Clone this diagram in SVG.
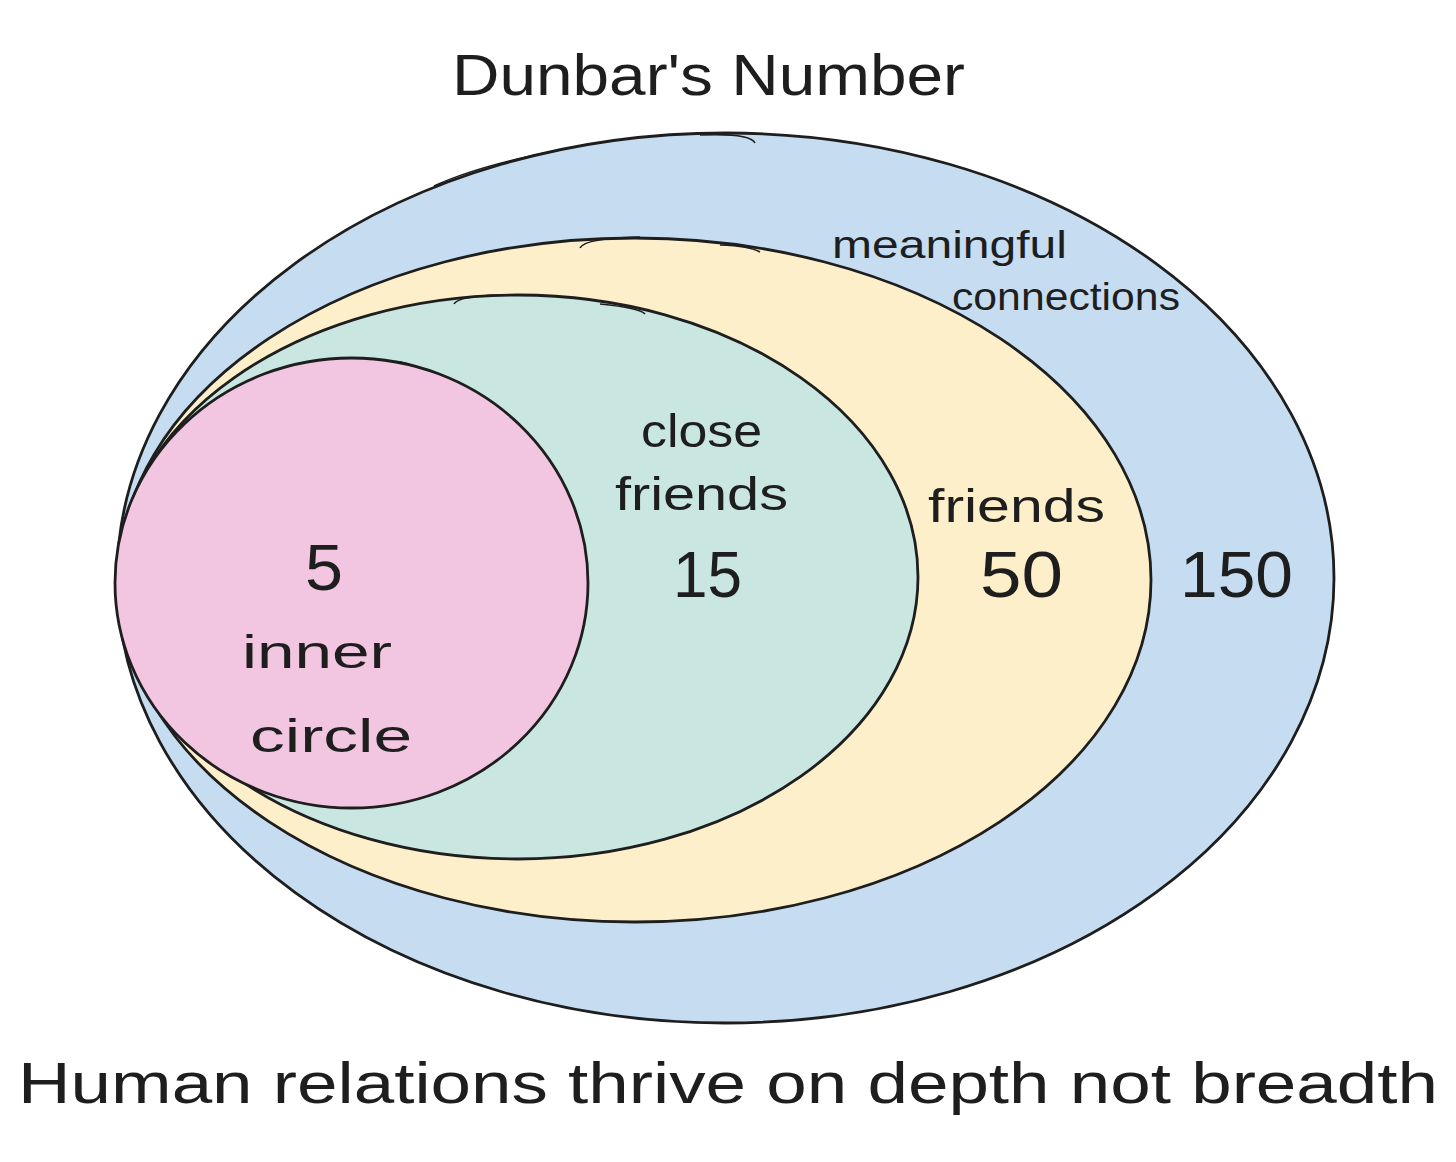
<svg xmlns="http://www.w3.org/2000/svg" width="1456" height="1162" viewBox="0 0 1456 1162">
<style>
.ring{stroke:#1e1e1e;stroke-width:2.8}
.sk{fill:none;stroke:#1e1e1e;stroke-width:1.6}
.t{font-family:"Liberation Sans","DejaVu Sans",sans-serif;fill:#1e1e1e}
.title{font-size:58px}
.lbl{font-size:46px}
.sm{font-size:38px}
.num{font-size:64px}
</style>
<rect width="1456" height="1162" fill="#ffffff"/>
<text id="title" class="t title" x="452" y="95" textLength="513" lengthAdjust="spacingAndGlyphs">Dunbar's Number</text>
<g id="n150">
<ellipse class="ring" cx="725.5" cy="578" rx="608.5" ry="445" fill="#c6ddf1"/>
<path class="sk" d="M434,186 Q480,165 560,150 M700,135 Q750,133 755,143"/>
<text class="t sm" x="832" y="258" textLength="235" lengthAdjust="spacingAndGlyphs">meaningful</text>
<text class="t sm" x="952" y="310" textLength="228" lengthAdjust="spacingAndGlyphs">connections</text>
<text class="t num" x="1180" y="597" textLength="113" lengthAdjust="spacingAndGlyphs">150</text>
</g>
<g id="n50">
<ellipse class="ring" cx="634.5" cy="580" rx="516.5" ry="342" fill="#fcefca"/>
<path class="sk" d="M580,248 Q585,238 640,237 M720,245 Q750,246 760,252"/>
<text class="t lbl" x="928" y="522" textLength="177" lengthAdjust="spacingAndGlyphs">friends</text>
<text class="t num" x="980" y="597" textLength="83" lengthAdjust="spacingAndGlyphs">50</text>
</g>
<g id="n15">
<ellipse class="ring" cx="517.5" cy="577" rx="400.5" ry="282" fill="#c9e6e0"/>
<path class="sk" d="M454,304 Q458,296 500,295 M600,304 Q640,308 645,314"/>
<text class="t lbl" x="641" y="447" textLength="121" lengthAdjust="spacingAndGlyphs">close</text>
<text class="t lbl" x="615" y="510" textLength="173" lengthAdjust="spacingAndGlyphs">friends</text>
<text class="t num" x="673" y="597" textLength="69" lengthAdjust="spacingAndGlyphs">15</text>
</g>
<g id="n5">
<ellipse class="ring" cx="351.5" cy="583" rx="236.5" ry="225" fill="#f2c6e0"/>
<path class="sk" d="M392,362 Q400,360 413,366"/>
<text class="t num" x="305" y="590" textLength="38" lengthAdjust="spacingAndGlyphs">5</text>
<text class="t lbl" x="242" y="668" textLength="150" lengthAdjust="spacingAndGlyphs">inner</text>
<text class="t lbl" x="250" y="752" textLength="162" lengthAdjust="spacingAndGlyphs">circle</text>
</g>
<g id="connectors"></g>
<text id="caption" class="t title" x="18" y="1103" textLength="1420" lengthAdjust="spacingAndGlyphs">Human relations thrive on depth not breadth</text>
</svg>
